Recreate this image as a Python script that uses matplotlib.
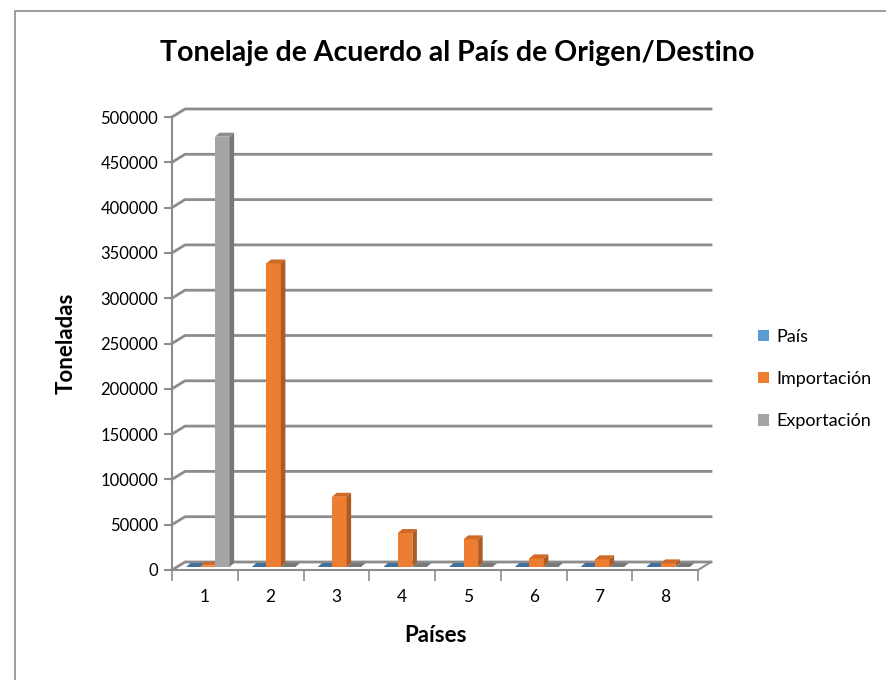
import numpy as np
import matplotlib.pyplot as plt
from matplotlib.patches import Polygon, Rectangle

# datos
paises = ['1', '2', '3', '4', '5', '6', '7', '8']
pais = [0, 0, 0, 0, 0, 0, 0, 0]
importacion = [1500, 335000, 77500, 37500, 30500, 9500, 8500, 4000]
exportacion = [475000, 0, 0, 0, 0, 0, 0, 0]
yticks = [0, 50000, 100000, 150000, 200000, 250000, 300000, 350000, 400000, 450000, 500000]

series = [('País', pais, '#5B9BD5', '#41719C', '#4A86C0'),
          ('Importación', importacion, '#ED7D31', '#AE5A21', '#D06A26'),
          ('Exportación', exportacion, '#A5A5A5', '#787878', '#8E8E8E')]

plt.rcParams['font.family'] = ['Lato', 'DejaVu Sans']

W, H = 886, 680
fig = plt.figure(figsize=(W/100, H/100), dpi=100)

# marco exterior
fig.patches.append(Rectangle((15/W, -0.1), 1.2, (H-11)/H + 0.1, transform=fig.transFigure,
                             fill=False, edgecolor='#8C8C8C', linewidth=1.2))

x0, x1 = 172, 698
y0, y1 = 570, 117
ax = fig.add_axes([x0/W, (H-y0)/H, (x1-x0)/W, (y0-y1)/H])
ax.set_xlim(0.5, 8.5)
ax.set_ylim(0, 500000)

pxx = (x1-x0)/8.0          # pixeles por categoria
pxy = (y0-y1)/500000.0     # pixeles por tonelada

# desplazamiento de la pared del fondo
wdx, wdy = 13/pxx, 8/pxy
grid = '#8C8C8C'
for v in yticks:
    ax.plot([0.5, 0.5+wdx, 8.5+wdx], [v, v+wdy, v+wdy], color=grid, lw=2, clip_on=False, zorder=1)
ax.plot([0.5, 8.5, 8.5+wdx], [0, 0, wdy], color=grid, lw=1.5, clip_on=False, zorder=1)
ax.plot([0.5, 0.5], [0, 500000], color=grid, lw=1.5, clip_on=False, zorder=1)

# barras con efecto 3d
bw = 14.5/pxx
bdx, bdy = 4.5/pxx, 4/pxy
odx, ody = 3/pxx, 3/pxy
x = np.arange(1, 9)
for k, (nombre, vals, cf, cs, ct) in enumerate(series):
    for xi, v in zip(x, vals):
        xl = xi + (k-1)*bw - bw/2 + odx
        xr = xl + bw
        b = ody
        t = ody + v
        if v > 0:
            ax.add_patch(Polygon([(xl, b), (xr, b), (xr, t), (xl, t)], closed=True,
                                 facecolor=cf, edgecolor='none', zorder=3, clip_on=False))
            ax.add_patch(Polygon([(xr, b), (xr+bdx, b+bdy), (xr+bdx, t+bdy), (xr, t)], closed=True,
                                 facecolor=cs, edgecolor='none', zorder=3, clip_on=False))
        ax.add_patch(Polygon([(xl, t), (xr, t), (xr+bdx, t+bdy), (xl+bdx, t+bdy)], closed=True,
                             facecolor=ct if v > 0 else cs, edgecolor='none', zorder=3, clip_on=False))
    ax.bar([0], [0], color=cf, label=nombre)

for s in ax.spines.values():
    s.set_visible(False)
ax.set_yticks(yticks)
ax.set_yticklabels([str(v) for v in yticks], fontsize=12)
ax.set_xticks(np.arange(0.5, 9, 1))
ax.set_xticklabels([])
ax.set_xticks(x, minor=True)
ax.set_xticklabels(paises, minor=True, fontsize=12.5)
ax.tick_params(axis='y', length=6, width=1.5, color=grid, pad=4)
ax.tick_params(axis='x', which='major', length=8, width=1.2, color=grid)
ax.tick_params(axis='x', which='minor', length=0, pad=14)

ax.set_ylabel('Toneladas', fontsize=16, fontweight='bold', labelpad=17)
ax.set_xlabel('Países', fontsize=16, fontweight='bold', labelpad=14)
fig.text(457/W, 1-53/H, 'Tonelaje de Acuerdo al País de Origen/Destino', fontsize=20.5,
         fontweight='bold', ha='center', va='center')

ax.legend(loc='center left', bbox_to_anchor=(742/W, 1-379/H), bbox_transform=fig.transFigure,
          frameon=False, fontsize=13, handlelength=0.6, handleheight=0.6, handletextpad=0.4,
          labelspacing=1.45)

fig.savefig('out.png', dpi=100)
